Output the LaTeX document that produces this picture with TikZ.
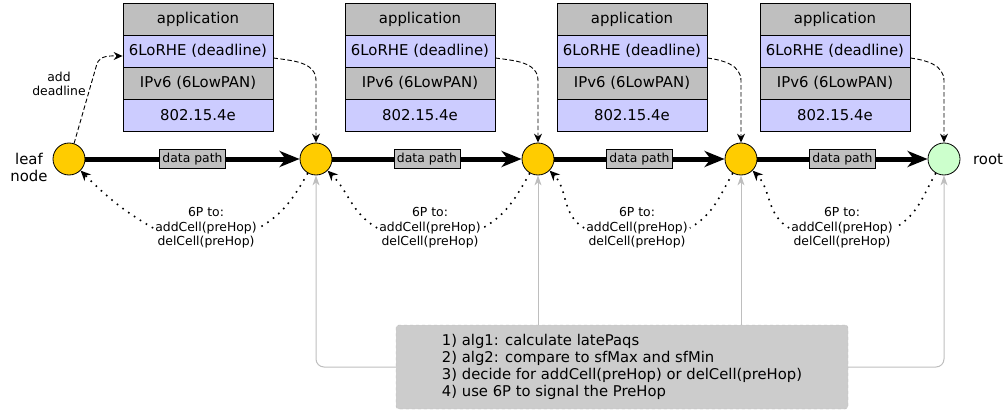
\documentclass[tikz,border=0pt]{standalone}
\usepackage{fontspec}
\setmainfont{DejaVu Sans}
\usetikzlibrary{arrows.meta,calc}
\definecolor{stgray}{HTML}{BFBFBF}
\definecolor{stblue}{HTML}{CCCCFF}
\definecolor{nyellow}{HTML}{FFCC00}
\definecolor{rgreen}{HTML}{CCFFCC}
\definecolor{boxgray}{HTML}{CCCCCC}
\definecolor{boxborder}{HTML}{B8B8B8}
\definecolor{linegray}{HTML}{BEBEBE}
\newcommand\fsbig{\fontsize{14.9}{17}\selectfont}
\newcommand\fsbox{\fontsize{14.8}{17.2}\selectfont}
\newcommand\fssmall{\fontsize{12.4}{14.6}\selectfont}
\begin{document}
\begin{tikzpicture}[x=1pt,y=-1pt,
  layer/.style={draw, line width=0.8pt, minimum width=150pt, minimum height=32pt, inner sep=0pt, font=\fsbig},
  layg/.style={layer, fill=stgray},
  layb/.style={layer, fill=stblue},
  relay/.style={circle, draw, line width=0.8pt, fill=nyellow, minimum size=32pt, inner sep=0pt},
  sink/.style={relay, fill=rgreen},
  plain/.style={font=\fsbig, align=center, inner sep=1pt},
  small/.style={font=\fssmall, align=center, inner sep=2pt},
  dpath/.style={line width=5pt, -{Stealth[length=20pt,width=16pt,inset=6pt]}},
  dlabel/.style={draw, line width=0.8pt, fill=stgray, font=\fssmall, inner sep=1.5pt, minimum height=19pt, minimum width=66pt},
  sixp/.style={line width=1.6pt, dash pattern=on 1.6pt off 5.4pt},
  sixtip/.style={-{Stealth[length=10pt,width=9pt,inset=3pt]}},
  dline/.style={line width=0.9pt, dash pattern=on 4.5pt off 2.5pt, -{Stealth[length=9pt,width=8pt,inset=3pt]}},
  gline/.style={linegray, line width=1pt, rounded corners=8pt, -{Stealth[length=10pt,width=7pt,inset=3pt]}},
  bbox/.style={draw=boxborder, dashed, fill=boxgray, rounded corners=3pt, minimum width=452pt, minimum height=84pt, align=left, font=\fsbox, inner sep=0pt}
]
\useasboundingbox (0,0) rectangle (1005,412);

% protocol stacks
\foreach \i/\x in {1/198,2/420,3/632,4/835} {
  \node[layg] (app\i) at (\x,19) {application};
  \node[layb] (lorhe\i) at (\x,51) {6LoRHE (deadline)};
  \node[layg] (ipv\i) at (\x,83) {IPv6 (6LowPAN)};
  \node[layb] (mac\i) at (\x,115) {802.15.4e};
}

% nodes
\node[relay] (n0) at (69,159) {};
\node[relay] (n1) at (316,159) {};
\node[relay] (n2) at (538,159) {};
\node[relay] (n3) at (741,159) {};
\node[sink] (root) at (944,159) {};
\node[plain] (leaflbl) at (29,167) {leaf\\node};
\node[plain] (rootlbl) at (988,159) {root};

% data path
\foreach \a/\b in {n0/n1,n1/n2,n2/n3,n3/root}
  \draw[dpath] (\a) -- (\b) node[midway, dlabel] {data path};

% 6P labels and dotted arrows
\node[small] (lab1) at (206,228) {6P to:\\addCell(preHop)\\delCell(preHop)};
\node[small] (lab2) at (430,228) {6P to:\\addCell(preHop)\\delCell(preHop)};
\node[small] (lab3) at (637,228) {6P to:\\addCell(preHop)\\delCell(preHop)};
\node[small] (lab4) at (842,228) {6P to:\\addCell(preHop)\\delCell(preHop)};
\foreach \a/\b/\l in {n0/n1/lab1,n1/n2/lab2,n2/n3/lab3,n3/root/lab4} {
  \draw[sixp] (\b.240) to[out=240,in=30] (\l.east);
  \draw[sixp,sixtip] (\l.west) to[out=150,in=-45] (\a.-45);
}

% deadline arrows
\node[small] (addlbl) at (59,84) {add\\deadline};
\draw[dline] (n0.72) -- ($(lorhe1.west)+(-26,14)$) to[out=76,in=180] ([yshift=-5pt]lorhe1.west);
\foreach \i/\n in {1/n1,2/n2,3/n3,4/root}
  \draw[dline] ([yshift=-7pt]lorhe\i.east) to[out=-8,in=90] ($(\n.north)+(0,-62)$) -- (\n.north);

% bottom box
\node[bbox] (bx) at (622,367) {1) alg1: calculate latePaqs\\2) alg2: compare to sfMax and sfMin\\3) decide for addCell(preHop) or delCell(preHop)\\4) use 6P to signal the PreHop};
\draw[gline] (bx.west) -| (n1);
\draw[gline] (bx.north -| n2) -- (n2);
\draw[gline] (bx.north -| n3) -- (n3);
\draw[gline] (bx.east) -| (root);
\end{tikzpicture}
\end{document}
